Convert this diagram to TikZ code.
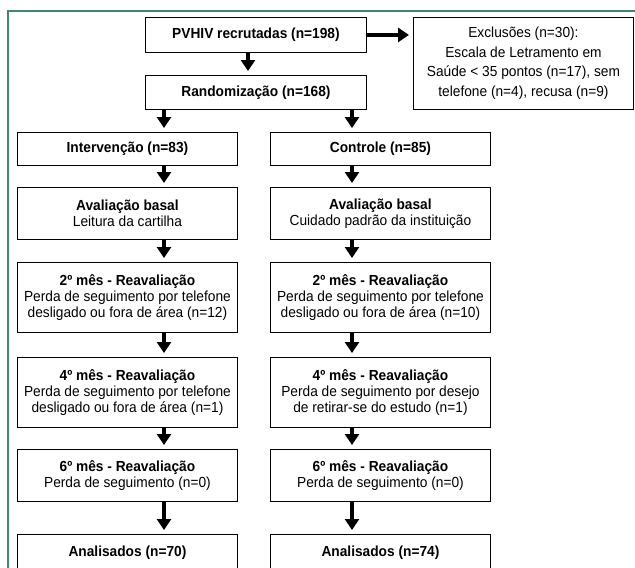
\documentclass[tikz,border=0pt]{standalone}
\usepackage{fontspec}
\setmainfont{Liberation Sans}[FakeStretch=0.94]
\usetikzlibrary{arrows.meta}
\definecolor{framegreen}{RGB}{62,137,118}
\tikzset{
  box/.style={draw, line width=0.9pt, inner sep=0pt, align=center, anchor=north west,
    minimum width=220pt, font=\fontsize{14.6}{16}\selectfont},
  fat/.style={line width=4.8pt, -{Triangle[width=14pt,length=11pt]}, shorten >=4pt},
}
\begin{document}
\begin{tikzpicture}[x=1pt, y=-1pt]
  \useasboundingbox (0,0) rectangle (635,568);

  % frame round the figure
  \draw [framegreen, line width=2pt] (8,568) -- (8,11) -- (635,11);

  % columns the arrows drop along
  \coordinate (M) at (248,0);
  \coordinate (L) at (164,0);
  \coordinate (R) at (352,0);

  % top of the chart
  \node [box, minimum width=221pt, minimum height=35pt] (rec) at (145,17) {\textbf{PVHIV recrutadas (n=198)}};
  \node [box, minimum width=221pt, minimum height=34pt] (rand) at (145,75) {\textbf{Randomização (n=168)}};
  \node [box, minimum height=92pt, font=\fontsize{14.6}{19.5}\selectfont] (exc) at (413,17)
    {Exclusões (n=30):\\Escala de Letramento em\\Saúde < 35 pontos (n=17), sem\\telefone (n=4), recusa (n=9)};

  % left column
  \node [box, minimum height=33pt] (int) at (17,132) {\textbf{Intervenção (n=83)}};
  \node [box, minimum height=52pt] (basL) at (17,187) {\textbf{Avaliação basal}\\Leitura da cartilha};
  \node [box, minimum height=70pt] (m2L) at (17,262)
    {\textbf{2º mês - Reavaliação}\\Perda de seguimento por telefone\\desligado ou fora de área (n=12)};
  \node [box, minimum height=70pt] (m4L) at (17,357)
    {\textbf{4º mês - Reavaliação}\\Perda de seguimento por telefone\\desligado ou fora de área (n=1)};
  \node [box, minimum height=52pt] (m6L) at (17,449) {\textbf{6º mês - Reavaliação}\\Perda de seguimento (n=0)};
  \node [box, minimum height=37pt] (anL) at (17,534) {\textbf{Analisados (n=70)}};

  % right column
  \node [box, minimum height=33pt] (ctl) at (270,132) {\textbf{Controle (n=85)}};
  \node [box, minimum height=52pt] (basR) at (270,187) {\textbf{Avaliação basal}\\Cuidado padrão da instituição};
  \node [box, minimum height=70pt] (m2R) at (270,262)
    {\textbf{2º mês - Reavaliação}\\Perda de seguimento por telefone\\desligado ou fora de área (n=10)};
  \node [box, minimum height=70pt] (m4R) at (270,357)
    {\textbf{4º mês - Reavaliação}\\Perda de seguimento por desejo\\de retirar-se do estudo (n=1)};
  \node [box, minimum height=52pt] (m6R) at (270,449) {\textbf{6º mês - Reavaliação}\\Perda de seguimento (n=0)};
  \node [box, minimum height=37pt] (anR) at (270,534) {\textbf{Analisados (n=74)}};

  % arrows
  \draw [fat] (rec.south -| M) -- (rand.north -| M);
  \draw [fat] (rec.east) -- (exc.west |- rec.east);
  \draw [fat] (rand.south -| L) -- (int.north -| L);
  \draw [fat] (rand.south -| R) -- (ctl.north -| R);
  \foreach \a/\b in {int/basL, basL/m2L, m2L/m4L, m4L/m6L, m6L/anL}
    \draw [fat] (\a.south -| L) -- (\b.north -| L);
  \foreach \a/\b in {ctl/basR, basR/m2R, m2R/m4R, m4R/m6R, m6R/anR}
    \draw [fat] (\a.south -| R) -- (\b.north -| R);
\end{tikzpicture}
\end{document}
